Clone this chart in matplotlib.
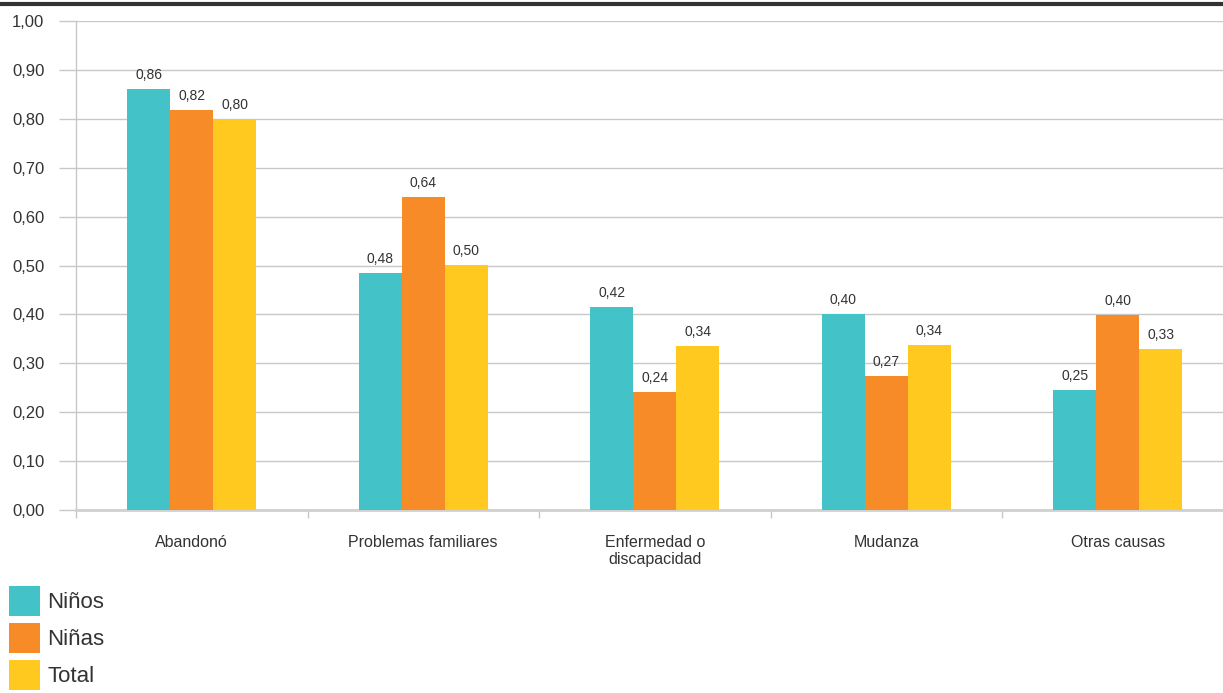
import matplotlib
matplotlib.use("Agg")
import matplotlib.pyplot as plt
import numpy as np
from matplotlib.lines import Line2D

plt.rcParams['font.family'] = ['Liberation Sans', 'DejaVu Sans']

categories = ["Abandonó", "Problemas familiares", "Enfermedad o\ndiscapacidad", "Mudanza", "Otras causas"]
series_names = ["Niños", "Niñas", "Total"]
ninos = [0.861, 0.485, 0.416, 0.401, 0.246]
ninas = [0.818, 0.640, 0.241, 0.274, 0.399]
total = [0.800, 0.501, 0.335, 0.337, 0.329]
yticks = [0.0, 0.1, 0.2, 0.3, 0.4, 0.5, 0.6, 0.7, 0.8, 0.9, 1.0]

colors = ["#43C2C7", "#F68B27", "#FFC920"]
text_color = "#333333"
grid_color = "#c8c8c8"

W, H = 1223, 693
fig = plt.figure(figsize=(W / 100, H / 100), dpi=100)
left_px, right_px, top_px, bottom_px = 76, 1223, 21, 510
ax = fig.add_axes([left_px / W, 1 - bottom_px / H, (right_px - left_px) / W, (bottom_px - top_px) / H])

x = np.arange(len(categories))
bw = 0.186
handles = []
for i, (vals, name, c) in enumerate(zip([ninos, ninas, total], series_names, colors)):
    b = ax.bar(x + (i - 1) * bw, vals, width=bw, color=c, label=name, zorder=3)
    ax.bar_label(b, labels=[f"{v:.2f}".replace(".", ",") for v in vals], padding=5,
                 fontsize=10, color=text_color)
    handles.append(b)

ax.set_yticks(yticks)
ax.set_yticklabels([f"{v:.2f}".replace(".", ",") for v in yticks], fontsize=12, color=text_color)
ax.tick_params(axis='y', length=12.2, color=grid_color, width=1, pad=10.5)
ax.yaxis.grid(True, color=grid_color, linewidth=1, zorder=0)
ax.set_axisbelow(True)

ax.set_xticks(x)
ax.set_xticklabels(categories, fontsize=11.5, color=text_color)
ax.tick_params(axis='x', which='major', length=0, pad=18)
ax.set_xticks(np.arange(len(categories)) - 0.5, minor=True)
ax.tick_params(axis='x', which='minor', length=6, color=grid_color, width=1)

cat_w = (right_px - left_px) / 231.5
ax.set_xlim(-0.5, -0.5 + cat_w)
ax.set_ylim(0, 1.0)

for s in ['top', 'right']:
    ax.spines[s].set_visible(False)
ax.spines['left'].set_color(grid_color)
ax.spines['left'].set_linewidth(1)
ax.spines['bottom'].set_color("#d0d0d0")
ax.spines['bottom'].set_linewidth(2)

fig.add_artist(Line2D([0, 1], [1 - 3.5 / H, 1 - 3.5 / H], color="#333333", linewidth=3, transform=fig.transFigure))

fig.legend(handles=handles, labels=series_names, loc='upper left',
           bbox_to_anchor=(9 / W, 1 - 586 / H), frameon=False, fontsize=16,
           handlelength=1.4, handleheight=1.7, handletextpad=0.33, labelspacing=0.32,
           borderpad=0, borderaxespad=0, labelcolor=text_color)

fig.savefig("out.png", dpi=100)
